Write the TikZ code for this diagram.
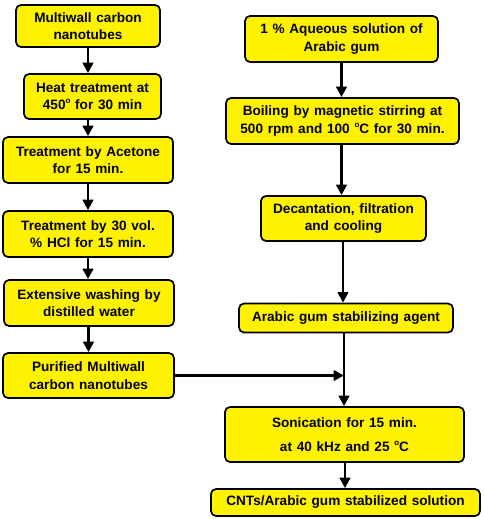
\documentclass[tikz,border=0pt]{standalone}
\usepackage{fontspec}
\setmainfont{Liberation Sans}[WordSpace=1.25]
\usetikzlibrary{arrows.meta,positioning}

\tikzset{
  stepbox/.style={draw, line width=1.7pt, rounded corners=5pt, fill=yellow,
    align=center, inner sep=2pt, font=\bfseries\fontsize{13.6}{17.5}\selectfont},
  flow/.style={line width=2.8pt, -{Triangle[length=10.5pt,width=10.5pt]}}
}
\newcommand{\degsup}{\raisebox{0.85ex}{\fontsize{8}{8}\selectfont o}}

\begin{document}
\begin{tikzpicture}[x=1pt,y=-1pt]
  \useasboundingbox (0,0) rectangle (484,519);

  % purification of the nanotubes
  \node[stepbox, minimum width=144pt, minimum height=42pt] (mwcnt)  at (88,26)    {Multiwall carbon\\nanotubes};
  \node[stepbox, minimum width=137pt, minimum height=45pt] (heat)   at (92.5,96.5) {Heat treatment at\\450\degsup{} for 30 min};
  \node[stepbox, minimum width=170pt, minimum height=46pt] (acet)   at (88,160)   {Treatment by Acetone\\for 15 min.};
  \node[stepbox, minimum width=170pt, minimum height=46pt] (hcl)    at (88,234)   {Treatment by 30 vol.\\\% HCl for 15 min.};
  \node[stepbox, minimum width=170pt, minimum height=46pt] (wash)   at (89,303)   {Extensive washing by\\distilled water};
  \node[stepbox, minimum width=171pt, minimum height=45pt] (pure)   at (88.5,375.5) {Purified Multiwall\\carbon nanotubes};

  % arabic gum solution
  \node[stepbox, minimum width=193pt, minimum height=46pt] (gum)    at (341.5,39)  {1 \% Aqueous solution of\\Arabic gum};
  \node[stepbox, minimum width=233pt, minimum height=46pt] (boil)   at (342.5,121) {Boiling by magnetic stirring at\\500 rpm and 100 \degsup C for 30 min.};
  \node[stepbox, minimum width=165pt, minimum height=45pt] (decant) at (343.5,218.5) {Decantation, filtration\\and cooling};
  \node[stepbox, minimum width=214pt, minimum height=29pt] (agent)  at (346,318)   {Arabic gum stabilizing agent};
  \node[stepbox, minimum width=239pt, minimum height=55pt] (sonic)  at (344.5,434.5) {Sonication for 15 min.\\[7pt]at 40 kHz and 25 \degsup C};
  \node[stepbox, minimum width=269pt, minimum height=27pt] (final)  at (345.5,502.5) {CNTs/Arabic gum stabilized solution};

  \coordinate (join) at (pure.east -| 344,0);

  \draw[flow] (mwcnt) -- (heat.north -| mwcnt);
  \draw[flow] (heat.south -| mwcnt) -- (acet);
  \draw[flow] (acet) -- (hcl);
  \draw[flow] (hcl) -- (wash.north -| hcl);
  \draw[flow] (wash.south -| pure) -- (pure);

  \draw[flow] (gum) -- (boil.north -| gum);
  \draw[flow] (boil.south -| gum) -- (decant.north -| gum);
  \draw[flow] (decant.south -| 343,0) -- (agent.north -| 343,0);
  \draw[flow] (agent.south -| join) -- (sonic.north -| join);
  \draw[flow] (pure) -- (join);
  \draw[flow] (sonic.south -| 345,0) -- (final.north -| 345,0);
\end{tikzpicture}
\end{document}
